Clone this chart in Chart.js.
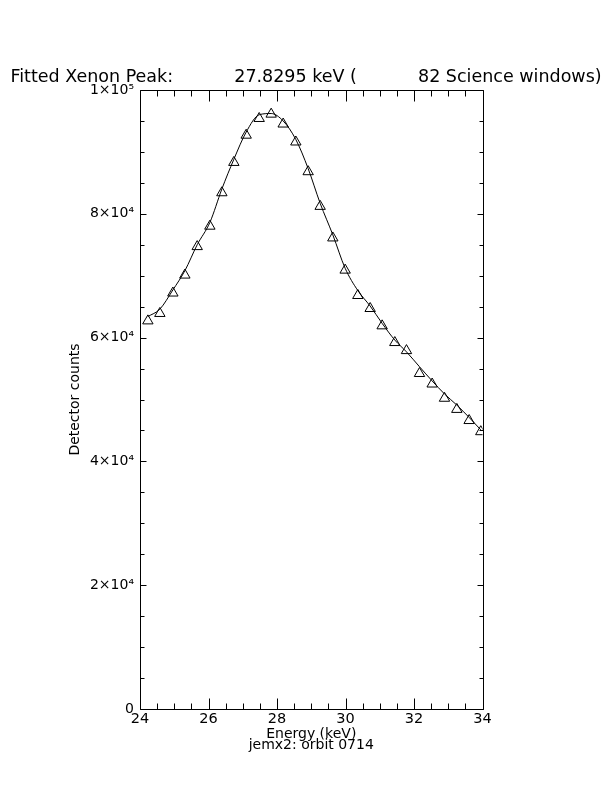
<!DOCTYPE html>
<html>
<head>
<meta charset="utf-8">
<script src="https://cdn.jsdelivr.net/npm/chart.js@4.4.1/dist/chart.umd.min.js"></script>
<style>
html, body { margin: 0; padding: 0; background: #ffffff; }
canvas { display: block; }
</style>
</head>
<body>
<canvas id="chart" width="612" height="792"></canvas>
<script>
// ---- Data ----
const energyKeV = [24.23, 24.58, 24.96, 25.31, 25.67, 26.04, 26.39, 26.74, 27.10, 27.48,
                   27.83, 28.18, 28.55, 28.91, 29.26, 29.63, 29.99, 30.36, 30.72, 31.07,
                   31.44, 31.78, 32.16, 32.53, 32.89, 33.25, 33.61, 33.95];
const detectorCounts = [62700, 63900, 67200, 70100, 74700, 78000, 83400, 88300, 92700, 95400,
                        96100, 94500, 91600, 86800, 81200, 76100, 70900, 66800, 64700, 61900,
                        59200, 57900, 54200, 52500, 50200, 48400, 46600, 44800];
const fittedCounts = [63400, 64600, 67700, 70800, 75000, 78600, 84000, 88800, 93200, 96000,
                      96200, 95000, 92000, 87300, 81700, 76600, 71200, 67600, 65100, 62300,
                      59600, 57700, 55300, 53000, 50900, 49100, 47100, 45100];
const xTickValues = [24, 26, 28, 30, 32, 34];
const yTickValues = [0, 20000, 40000, 60000, 80000, 100000];
const yTickLabels = ['0', '2×10⁴', '4×10⁴', '6×10⁴', '8×10⁴', '1×10⁵'];
const titleText = 'Fitted Xenon Peak:           27.8295 keV (           82 Science windows)';
const xAxisTitle = ['Energy (keV)', 'jemx2: orbit 0714'];
const yAxisTitle = 'Detector counts';

const FONT = 'DejaVu Sans';

const pointsData = energyKeV.map((e, i) => ({ x: e, y: detectorCounts[i] }));
const fitData = energyKeV.map((e, i) => ({ x: e, y: fittedCounts[i] }));

const framePlugin = {
  id: 'frameTicks',
  beforeDraw(chart) {
    const ctx = chart.ctx;
    ctx.save();
    ctx.fillStyle = '#ffffff';
    ctx.fillRect(0, 0, chart.width, chart.height);
    ctx.restore();
  },
  afterDatasetsDraw(chart) {
    const { ctx, chartArea, scales } = chart;
    const xs = scales.x, ys = scales.y;
    const L = Math.round(chartArea.left) + 0.5;
    const R = Math.round(chartArea.right) + 0.5;
    const T = Math.round(chartArea.top) + 0.5;
    const B = Math.round(chartArea.bottom) + 0.5;
    ctx.save();
    ctx.strokeStyle = '#000000';
    ctx.lineWidth = 1;
    ctx.beginPath();
    ctx.rect(L, T, R - L, B - T);
    for (let v = xs.min; v <= xs.max + 1e-9; v += 0.5) {
      const px = Math.round(xs.getPixelForValue(v)) + 0.5;
      const major = Math.abs(v / 2 - Math.round(v / 2)) < 1e-9;
      const len = major ? 11 : 6;
      ctx.moveTo(px, B); ctx.lineTo(px, B - len);
      ctx.moveTo(px, T); ctx.lineTo(px, T + len);
    }
    for (let v = ys.min; v <= ys.max + 1e-6; v += 5000) {
      const py = Math.round(ys.getPixelForValue(v)) + 0.5;
      const major = v % 20000 === 0;
      const len = major ? 6 : 4;
      ctx.moveTo(L, py); ctx.lineTo(L + len, py);
      ctx.moveTo(R, py); ctx.lineTo(R - len, py);
    }
    ctx.stroke();
    ctx.restore();
  }
};

new Chart(document.getElementById('chart'), {
  type: 'scatter',
  data: {
    datasets: [
      {
        label: 'Fit',
        data: fitData,
        showLine: true,
        borderColor: '#000000',
        borderWidth: 1,
        pointRadius: 0,
        fill: false,
        cubicInterpolationMode: 'monotone'
      },
      {
        label: 'Counts',
        data: pointsData,
        showLine: false,
        pointStyle: 'triangle',
        pointRadius: 6,
        pointBorderWidth: 1,
        pointBorderColor: '#000000',
        pointBackgroundColor: 'rgba(0,0,0,0)'
      }
    ]
  },
  options: {
    responsive: false,
    animation: false,
    devicePixelRatio: 1,
    layout: { padding: { left: 0, right: 0, top: 0.6, bottom: 32 } },
    plugins: {
      legend: { display: false },
      tooltip: { enabled: false },
      title: {
        display: true,
        text: titleText,
        color: '#000000',
        font: { family: FONT, size: 17.5, weight: 'normal', lineHeight: 1.2 },
        padding: { top: 66.2, bottom: 2.2 }
      }
    },
    scales: {
      x: {
        type: 'linear',
        min: 24,
        max: 34,
        grid: { display: false, drawTicks: false },
        border: { display: false },
        ticks: {
          stepSize: 2,
          autoSkip: false,
          maxRotation: 0,
          padding: 3,
          color: '#000000',
          font: { family: FONT, size: 14.5, lineHeight: 1 },
          callback: (v) => (xTickValues.includes(v) ? String(v) : '')
        },
        title: {
          display: true,
          text: xAxisTitle,
          color: '#000000',
          font: { family: FONT, size: 14, lineHeight: '11.5px' },
          padding: { top: 0, bottom: 8.75 }
        },
        afterFit: (s) => { s.height = 51; }
      },
      y: {
        type: 'linear',
        min: 0,
        max: 100000,
        grid: { display: false, drawTicks: false },
        border: { display: false },
        ticks: {
          stepSize: 20000,
          autoSkip: false,
          padding: 6,
          color: '#000000',
          font: { family: FONT, size: 14 },
          callback: (v) => {
            const i = yTickValues.indexOf(v);
            return i >= 0 ? yTickLabels[i] : '';
          }
        },
        title: {
          display: true,
          text: yAxisTitle,
          color: '#000000',
          font: { family: FONT, size: 14 },
          padding: { top: 66.9, bottom: 0 }
        },
        afterFit: (s) => { s.width = 140; }
      },
      yRight: {
        type: 'linear',
        position: 'right',
        display: true,
        grid: { display: false, drawTicks: false },
        border: { display: false },
        ticks: { display: false },
        afterFit: (s) => { s.width = 129.5; }
      }
    }
  },
  plugins: [framePlugin]
});
</script>
</body>
</html>
